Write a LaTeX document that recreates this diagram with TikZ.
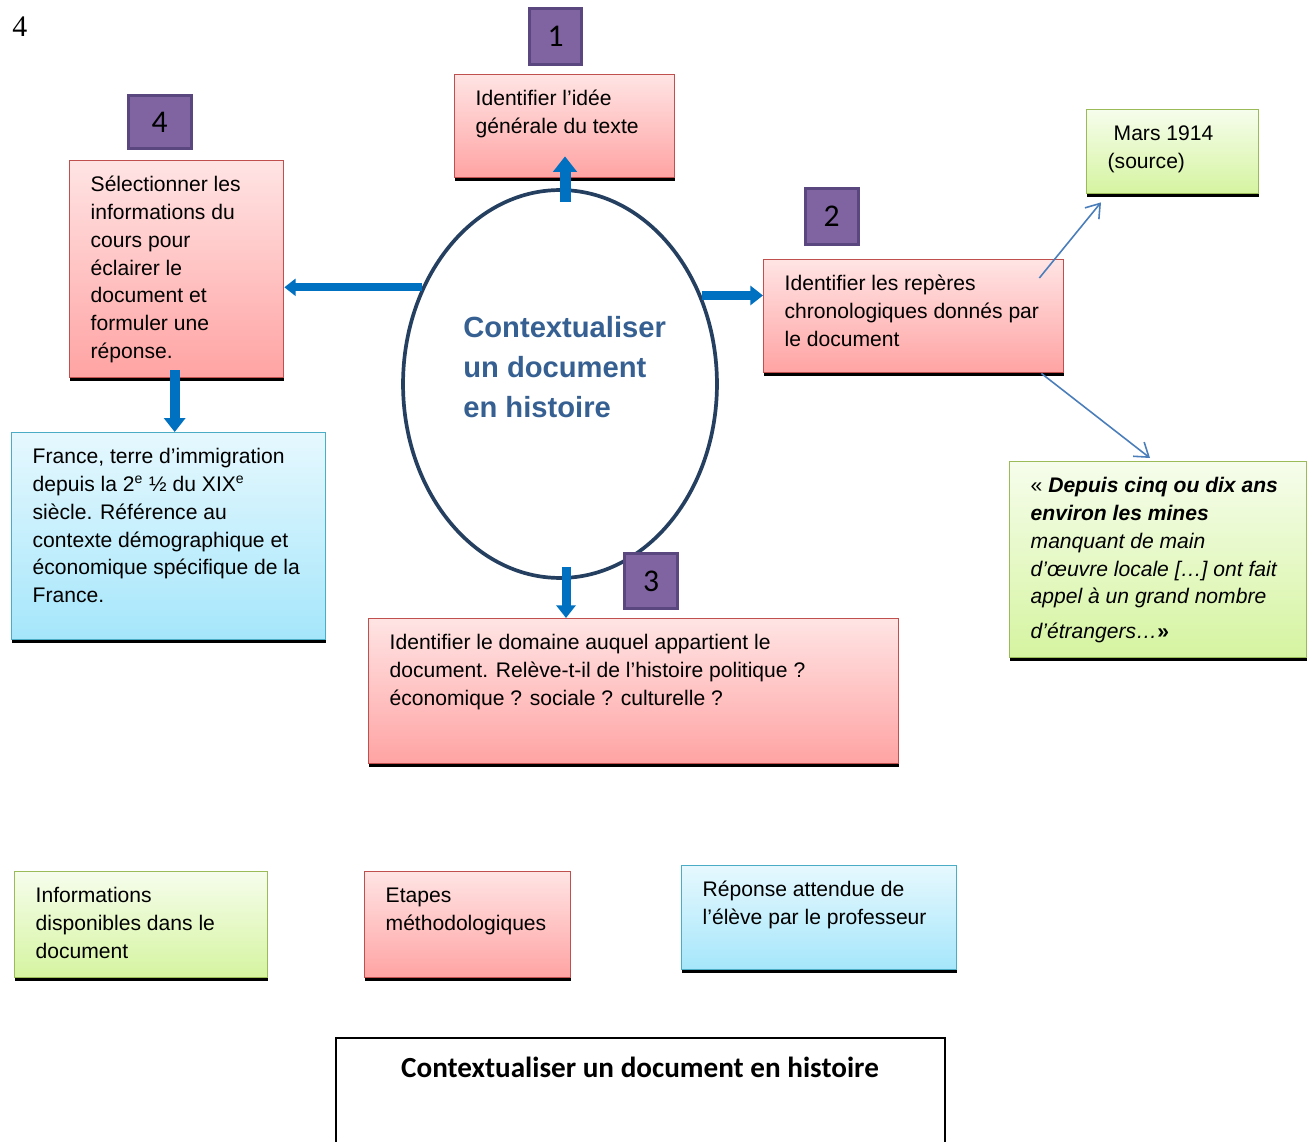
\documentclass[tikz,border=0pt]{standalone}
\usepackage{fontspec}
\setmainfont{Liberation Sans}
\newfontfamily\calibrifont{Carlito}
\newfontfamily\timesfont{Liberation Serif}
\usepackage{tikz}
\usetikzlibrary{positioning}
\usetikzlibrary{arrows.meta}
\usetikzlibrary{calc}
\usetikzlibrary{shapes.geometric}
\usetikzlibrary{shadows}

\definecolor{redtop}{HTML}{FFE4E4}
\definecolor{redbot}{HTML}{FFA3A3}
\definecolor{redline}{HTML}{C0504D}
\definecolor{greentop}{HTML}{F6FDEC}
\definecolor{greenbot}{HTML}{D5F4A0}
\definecolor{greenline}{HTML}{9BBB59}
\definecolor{bluetop}{HTML}{E6F8FE}
\definecolor{bluebot}{HTML}{A5E6FB}
\definecolor{blueline}{HTML}{4BACC6}
\definecolor{purplefill}{HTML}{8064A2}
\definecolor{purpleline}{HTML}{5B4780}
\definecolor{arrowblue}{HTML}{0070C0}
\definecolor{navy}{HTML}{243F60}
\definecolor{ctxblue}{HTML}{366092}
\definecolor{thinblue}{HTML}{4A7EBB}

\newcommand{\boxtext}[3]{\parbox[c][#2][t]{#1}{\raggedright\leftskip=0.42cm\rule{0pt}{0.61cm}#3}}

\begin{document}
\begin{tikzpicture}[x=0.02cm, y=-0.02cm, node distance=0.16cm,
  shadowbar/.style={drop shadow={shadow xshift=0pt, shadow yshift=-0.07cm, fill=black, opacity=1}},
  stepbox/.style={draw=redline, line width=0.8pt, top color=redtop, bottom color=redbot, anchor=north west, inner sep=0pt, shadowbar, font=\fontsize{12}{15.9}\selectfont},
  docbox/.style={stepbox, draw=greenline, top color=greentop, bottom color=greenbot},
  answerbox/.style={stepbox, draw=blueline, top color=bluetop, bottom color=bluebot},
  numbox/.style={draw=purpleline, line width=1.7pt, fill=purplefill, inner sep=0pt, font=\calibrifont\fontsize{18}{20}\selectfont},
  blockarrow/.style={draw=arrowblue, line width=#1, -{Triangle[length=0pt 1.4, width=0pt 2.1]}},
  thinarrow/.style={draw=thinblue, line width=0.9pt, -{Straight Barb[length=0.26cm, width=0.36cm]}}]

\path[use as bounding box, fill=white] (0,0) rectangle (1313,1142);

\node [font=\timesfont\fontsize{17}{20}\selectfont, anchor=base west, inner sep=0pt] (pagenum) at (12,37) {4};

% central ellipse
\node [ellipse, draw=navy, line width=2.1pt, minimum width=6.28cm, minimum height=7.76cm, inner sep=0pt] (ctx) at (560,384) {};
\node [font=\fontsize{16.6}{22.8}\selectfont\bfseries, text=ctxblue, align=left, anchor=base west, inner sep=0pt] (ctxlabel) at (463,418) {Contextualiser\\un document\\en histoire};

% steps
\node [stepbox] (ideebox) at (454,74) {\boxtext{4.4cm}{2.06cm}{Identifier l’idée\\ générale du texte}};
\node [stepbox] (reperesbox) at (763,259) {\boxtext{6.0cm}{2.26cm}{Identifier les repères\\ chronologiques donnés par\\ le document}};
\node [stepbox] (domainebox) at (368,618) {\boxtext{10.6cm}{2.9cm}{Identifier le domaine auquel appartient le\\ document. Relève-t-il de l’histoire politique ?\\ économique ? sociale ? culturelle ?}};
\node [stepbox] (selectbox) at (69,160) {\boxtext{4.28cm}{4.34cm}{Sélectionner les\\ informations du\\ cours pour\\ éclairer le\\ document et\\ formuler une\\ réponse.}};

\node [numbox, minimum width=1.04cm, minimum height=1.12cm, above=of ideebox, xshift=-0.18cm] (n1) {1};
\node [numbox, minimum width=1.06cm, minimum height=1.12cm, above=0.26cm of reperesbox, xshift=-1.64cm] (n2) {2};
\node [numbox, minimum width=1.06cm, minimum height=1.1cm, above=of domainebox, xshift=0.35cm] (n3) {3};
\node [numbox, minimum width=1.26cm, minimum height=1.06cm, above=0.2cm of selectbox, xshift=-0.34cm] (n4) {4};

% document and answer
\node [docbox] (sourcebox) at (1086,109) {\boxtext{3.44cm}{1.68cm}{\hspace{0.12cm}Mars 1914\\ (source)}};
\node [docbox] (citebox) at (1009,461) {\boxtext{5.94cm}{3.92cm}{« \textbf{\textit{Depuis cinq ou dix ans}}\\ \textbf{\textit{environ les mines}}\\ \textit{manquant de main}\\ \textit{d’œuvre locale […] ont fait}\\ \textit{appel à un grand nombre}\\[0.14cm] \textit{d’étrangers…}{\large\bfseries »}}};
\node [answerbox] (francebox) at (11,432) {\boxtext{6.28cm}{4.14cm}{France, terre d’immigration\\ depuis la 2\textsuperscript{e} ½ du XIX\textsuperscript{e}\\ siècle. Référence au\\ contexte démographique et\\ économique spécifique de la\\ France.}};

% arrows
\draw [blockarrow=0.22cm] ($(ctx.north)+(5,14)$) coordinate (u1) -- ($(u1 |- ideebox.south)+(0,-22)$);
\draw [blockarrow=0.16cm] (ctx.145) -- (ctx.145 -| selectbox.east);
\draw [blockarrow=0.18cm] (ctx.32) -- (ctx.32 -| reperesbox.west);
\draw [blockarrow=0.18cm] ($(ctx.south)+(6,-13)$) coordinate (d3) -- (d3 |- domainebox.north);
\draw [blockarrow=0.2cm] ($(selectbox.south)+(-2,-8)$) coordinate (d4) -- (d4 |- francebox.north);
\draw [thinarrow] ($(reperesbox.north east)+(-25,19)$) -- ($(sourcebox.south west)+(15,8)$);
\draw [thinarrow] ($(reperesbox.south east)+(-23,0)$) -- ($(citebox.north west)+(141,-3)$);

% legend
\node [docbox] (leginfo) at (14,871) {\boxtext{5.06cm}{2.12cm}{Informations\\ disponibles dans le\\ document}};
\node [stepbox] (legetape) at (364,871) {\boxtext{4.12cm}{2.12cm}{Etapes\\ méthodologiques}};
\node [answerbox] (legreponse) at (681,865) {\boxtext{5.5cm}{2.08cm}{Réponse attendue de\\ l’élève par le professeur}};

% title
\draw [line width=0.7pt] (336,1142) |- (945,1038) -- (945,1142);
\node [font=\calibrifont\bfseries\fontsize{16.6}{20}\selectfont, anchor=base] (title) at (640,1077) {Contextualiser un document en histoire};

\end{tikzpicture}
\end{document}
